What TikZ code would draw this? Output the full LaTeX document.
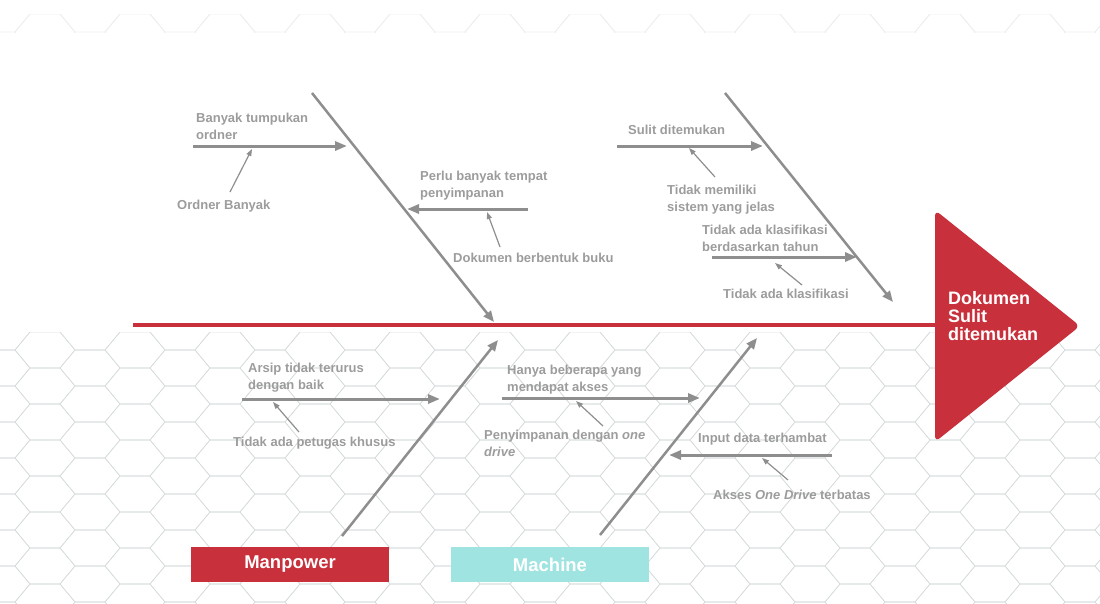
\documentclass[tikz,border=0pt]{standalone}
\usepackage{fontspec}
\setmainfont{Liberation Sans}
\usetikzlibrary{arrows.meta}

\definecolor{fishred}{HTML}{C8303C}
\definecolor{bonegray}{HTML}{8E8E8E}
\definecolor{causegray}{HTML}{9C9C9C}
\definecolor{machinecyan}{HTML}{A0E4E1}
\definecolor{hexgray}{HTML}{D5DBDD}

\tikzset{%
  bone/.style={
    bonegray,
    line width=2.5pt,
    -{Triangle[length=11pt,width=9pt]}
  },
  branch/.style={
    bonegray,
    line width=3pt,
    -{Triangle[length=12pt,width=9pt]}
  },
  subcause/.style={
    bonegray,
    line width=1.2pt,
    -{Triangle[length=7pt,width=5pt]}
  },
  causetext/.style={
    anchor=north west,
    inner sep=0pt,
    text=causegray,
    align=left,
    font=\fontsize{13}{17}\selectfont\bfseries
  },
  category/.style={
    rectangle,
    minimum width=198pt,
    minimum height=35pt,
    inner sep=0pt,
    text=white,
    font=\fontsize{18.5}{20}\selectfont\bfseries
  },
  hexcell/.style={hexgray, line width=0.6pt},
}

\begin{document}
\begin{tikzpicture}[x=1pt,y=-1pt]
\useasboundingbox (0,0) rectangle (1100,603);

% background mesh
\begin{scope}
\clip (0,332) rectangle (1100,603);
\foreach \i in {0,...,25}{
  \foreach \j in {0,...,8}{
    \draw[hexcell] ({45*\i},{332+36*\j+18*mod(\i,2)}) +(-30,0) -- +(-15,-18) -- +(15,-18) -- +(30,0) -- +(15,18) -- +(-15,18) -- cycle;
  }
}
\end{scope}
\begin{scope}
\clip (0,14) rectangle (1100,32);
\foreach \i in {0,...,25}{
  \draw[hexcell, draw=hexgray!50] ({45*\i},{14+18*mod(\i,2)}) +(-30,0) -- +(-15,-18) -- +(15,-18) -- +(30,0) -- +(15,18) -- +(-15,18) -- cycle;
}
\end{scope}

% spine and head
\coordinate (tail) at (133,325);
\coordinate (mouth) at (936,325);
\draw[fishred, line width=4pt] (tail) -- (mouth);
\fill[fishred, rounded corners=6pt] (935,210) -- (1080,326) -- (935,442) -- cycle;
\node[anchor=north west, inner sep=0pt, text=white, align=left,
  font=\fontsize{18}{18}\selectfont\bfseries] (effect) at (948,291) {Dokumen\\Sulit\\ditemukan};

% bones
\coordinate (up1 s) at (312,93);
\coordinate (up1 e) at (494,322);
\coordinate (up2 s) at (725,93);
\coordinate (up2 e) at (893,302);
\coordinate (lo1 s) at (342,536);
\coordinate (lo1 e) at (498,340);
\coordinate (lo2 s) at (600,535);
\coordinate (lo2 e) at (757,338);
\draw[bone] (up1 s) -- (up1 e);
\draw[bone] (up2 s) -- (up2 e);
\draw[bone] (lo1 s) -- (lo1 e);
\draw[bone] (lo2 s) -- (lo2 e);

% branches
\coordinate (tumpukan s) at (193,146);
\coordinate (tumpukan e) at (347,146);
\coordinate (tempat s) at (528,209);
\coordinate (tempat e) at (407,209);
\coordinate (sulit s) at (617,146);
\coordinate (sulit e) at (763,146);
\coordinate (tahun s) at (712,257);
\coordinate (tahun e) at (857,257);
\coordinate (arsip s) at (242,399);
\coordinate (arsip e) at (440,399);
\coordinate (akses s) at (502,398);
\coordinate (akses e) at (700,398);
\coordinate (input s) at (832,455);
\coordinate (input e) at (669,455);
\draw[branch] (tumpukan s) -- (tumpukan e);
\draw[branch] (tempat s) -- (tempat e);
\draw[branch] (sulit s) -- (sulit e);
\draw[branch] (tahun s) -- (tahun e);
\draw[branch] (arsip s) -- (arsip e);
\draw[branch] (akses s) -- (akses e);
\draw[branch] (input s) -- (input e);

% texts
\node[causetext] (tumpukan) at (196,113) {Banyak tumpukan\\ordner};
\node[causetext] (ordner) at (177,200) {Ordner Banyak};
\node[causetext] (tempat) at (420,171) {Perlu banyak tempat\\penyimpanan};
\node[causetext] (buku) at (453,253) {Dokumen berbentuk buku};
\node[causetext] (sulit) at (628,125) {Sulit ditemukan};
\node[causetext] (sistem) at (667,185) {Tidak memiliki\\sistem yang jelas};
\node[causetext] (tahun) at (702,225) {Tidak ada klasifikasi\\berdasarkan tahun};
\node[causetext] (klasifikasi) at (723,289) {Tidak ada klasifikasi};
\node[causetext] (arsip) at (248,363) {Arsip tidak terurus\\dengan baik};
\node[causetext] (petugas) at (233,437) {Tidak ada petugas khusus};
\node[causetext] (akses) at (507,365) {Hanya beberapa yang\\mendapat akses};
\node[causetext] (onedrive) at (484,430) {Penyimpanan dengan \textit{one}\\\textit{drive}};
\node[causetext] (input) at (698,433) {Input data terhambat};
\node[causetext] (terbatas) at (713,490) {Akses \textit{One Drive} terbatas};

% sub causes
\coordinate (ordner s) at (230,192);
\coordinate (ordner e) at (252,149);
\coordinate (buku s) at (500,247);
\coordinate (buku e) at (487,212);
\coordinate (sistem s) at (715,177);
\coordinate (sistem e) at (689,148);
\coordinate (klasifikasi s) at (802,285);
\coordinate (klasifikasi e) at (775,263);
\coordinate (petugas s) at (299,432);
\coordinate (petugas e) at (273,402);
\coordinate (onedrive s) at (603,426);
\coordinate (onedrive e) at (576,401);
\coordinate (terbatas s) at (788,480);
\coordinate (terbatas e) at (762,458);
\foreach \c in {ordner,buku,sistem,klasifikasi,petugas,onedrive,terbatas}
  \draw[subcause] (\c\space s) -- (\c\space e);

% categories
\node[category, fill=fishred] (manpower) at (290,564.5) {Manpower};
\node[category, fill=machinecyan] (machine) at (550,564.5) {Machine};
\end{tikzpicture}
\end{document}
